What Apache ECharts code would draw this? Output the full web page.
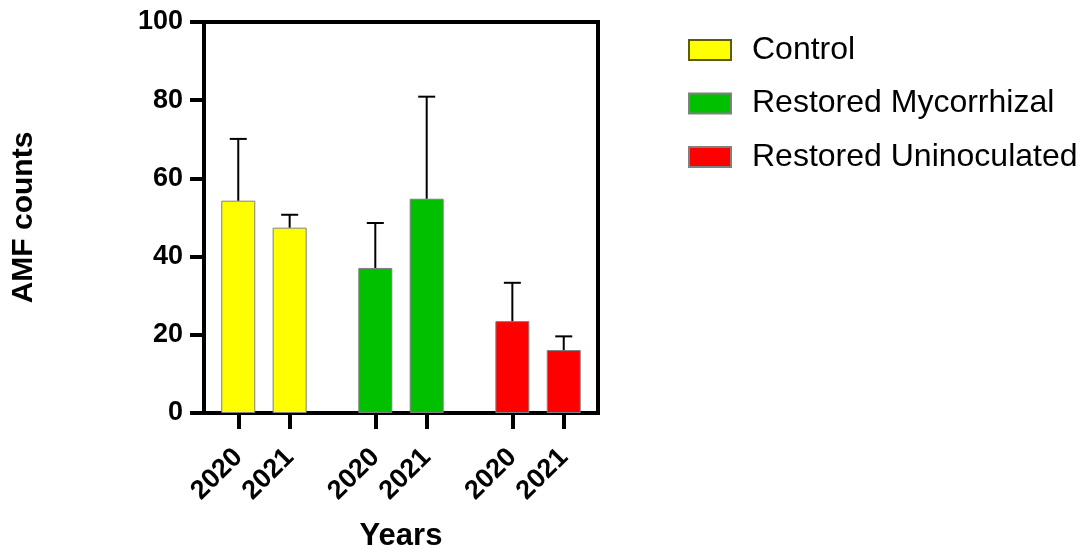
<!DOCTYPE html>
<html>
<head>
<meta charset="utf-8">
<script src="https://cdn.jsdelivr.net/npm/echarts@6/dist/echarts.min.js"></script>
<style>
html,body{margin:0;padding:0;background:#fff;}
#chart{width:1081px;height:552px;}
</style>
</head>
<body>
<div id="chart"></div>
<script>
// ---- data ----
const groups = ['Control', 'Restored Mycorrhizal', 'Restored Uninoculated'];
const years = ['2020', '2021'];
const controlMeans = [54.3, 47.4];
const controlErr = [15.8, 3.3];
const mycoMeans = [37.1, 54.8];
const mycoErr = [11.5, 26.1];
const uninocMeans = [23.5, 16.1];
const uninocErr = [9.8, 3.5];
const yTicks = [0, 20, 40, 60, 80, 100];

const groupMeans = [controlMeans, mycoMeans, uninocMeans];
const groupErrs = [controlErr, mycoErr, uninocErr];
const groupColors = ['#FFFF00', '#00C000', '#FF0000'];

// ---- slot layout on a category axis (spacing constants) ----
const leadSlots = 2, yearStep = 3, groupStep = 8, trailSlots = 2;
const totalSlots = leadSlots + (groups.length - 1) * groupStep + (years.length - 1) * yearStep + trailSlots + 1;
const slotLabels = new Array(totalSlots).fill('');
const slotIsBar = new Array(totalSlots).fill(false);
const slotOf = (g, y) => leadSlots + g * groupStep + y * yearStep;
groups.forEach((g, gi) => years.forEach((yr, yi) => {
  const s = slotOf(gi, yi);
  slotLabels[s] = yr;
  slotIsBar[s] = true;
}));

const barSeries = groups.map((name, gi) => {
  const data = new Array(totalSlots).fill('-');
  years.forEach((yr, yi) => { data[slotOf(gi, yi)] = groupMeans[gi][yi]; });
  return {
    name: name,
    type: 'bar',
    data: data,
    barWidth: 34,
    barGap: '-100%',
    itemStyle: { color: groupColors[gi], borderColor: '#808080', borderWidth: 1 },
    z: 2
  };
});

const errData = [];
groups.forEach((g, gi) => years.forEach((yr, yi) => {
  const m = groupMeans[gi][yi];
  errData.push([slotOf(gi, yi), m, m + groupErrs[gi][yi]]);
}));

const errSeries = {
  type: 'custom',
  name: 'err',
  data: errData,
  z: 3,
  renderItem: function (params, api) {
    const x = api.value(0);
    const lo = api.coord([x, api.value(1)]);
    const hi = api.coord([x, api.value(2)]);
    const half = 8.5;
    return {
      type: 'group',
      children: [
        { type: 'line', shape: { x1: lo[0], y1: lo[1], x2: hi[0], y2: hi[1] }, style: { stroke: '#000', lineWidth: 2 } },
        { type: 'line', shape: { x1: hi[0] - half, y1: hi[1], x2: hi[0] + half, y2: hi[1] }, style: { stroke: '#000', lineWidth: 2 } }
      ]
    };
  }
};

const FONT = 'Liberation Sans, Arial, sans-serif';
const chart = echarts.init(document.getElementById('chart'), null, { renderer: 'canvas' });
chart.setOption({
  animation: false,
  backgroundColor: '#fff',
  textStyle: { fontFamily: FONT },
  grid: {
    left: 204, right: 483, top: 22, bottom: 139,
    containLabel: false,
    outerBoundsMode: 'none',
    show: true, borderColor: '#000', borderWidth: 4, backgroundColor: 'transparent'
  },
  legend: {
    orient: 'vertical',
    left: 683, top: 29,
    icon: 'rect',
    itemWidth: 42, itemHeight: 20, itemGap: 21.5,
    selectedMode: false,
    data: [
      { name: groups[0], itemStyle: { borderColor: '#5c5c00' } },
      { name: groups[1] },
      { name: groups[2] }
    ],
    textStyle: { fontFamily: FONT, fontSize: 32, color: '#000', padding: [0, 0, 0, 16] }
  },
  xAxis: {
    type: 'category',
    data: slotLabels,
    boundaryGap: false,
    name: 'Years',
    nameLocation: 'middle',
    nameGap: 108,
    nameTextStyle: { fontFamily: FONT, fontSize: 31, fontWeight: 'bold', color: '#000' },
    axisLine: { lineStyle: { color: '#000', width: 4 } },
    axisTick: { show: true, length: 16, lineStyle: { color: '#000', width: 4 }, interval: (i) => slotIsBar[i] },
    axisLabel: {
      interval: (i) => slotIsBar[i],
      rotate: 45, margin: 40,
      fontFamily: FONT, fontSize: 27, fontWeight: 'bold', color: '#000'
    },
    splitLine: { show: false }
  },
  yAxis: {
    type: 'value',
    min: yTicks[0], max: yTicks[yTicks.length - 1], interval: yTicks[1] - yTicks[0],
    name: 'AMF counts',
    nameLocation: 'middle',
    nameRotate: 90,
    nameGap: 165,
    nameTextStyle: { fontFamily: FONT, fontSize: 30, fontWeight: 'bold', color: '#000' },
    axisLine: { show: true, lineStyle: { color: '#000', width: 4 } },
    axisTick: { show: true, length: 14, lineStyle: { color: '#000', width: 4 } },
    axisLabel: { margin: 21, fontFamily: FONT, fontSize: 27, fontWeight: 'bold', color: '#000' },
    splitLine: { show: false }
  },
  series: barSeries.concat([errSeries])
});
</script>
</body>
</html>
